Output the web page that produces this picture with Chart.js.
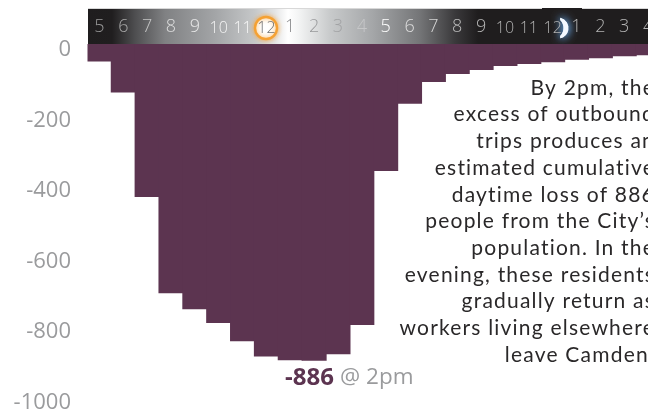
<!DOCTYPE html>
<html><head><meta charset="utf-8">
<style>html,body{margin:0;padding:0;background:#fff;overflow:hidden;width:648px;height:412px}canvas{display:block}</style>
<script src="https://cdn.jsdelivr.net/npm/chart.js@4"></script></head>
<body><div style="width:648px;height:412px;overflow:hidden"><canvas id="c" width="672" height="460" style="width:672px;height:460px"></canvas></div>
<script>
const hourLabels=['5','6','7','8','9','10','11','12','1','2','3','4','5','6','7','8','9','10','11','12','1','2','3','4'];
const populationChange=[-38,-126,-422,-695,-740,-779,-831,-874,-885,-886,-868,-785,-348,-158,-96,-73,-62,-51,-45,-40,-33,-29,-23,-20];
const hourColors=['#9a9a9a','#a8a8a8','#c4c4c4','#dcdcdc','#e8e8e8','#f4f4f4','#f8f8f8','#6f7072','#8a8b8d','#98999b','#a2a3a5','#c6c7c8','#ffffff','#dddddd','#d4d4d4','#bcbcbc','#b4b4b4','#b4b4b4','#b4b4b4','#b4b4b4','#b4b4b4','#b4b4b4','#b4b4b4','#b4b4b4'];
const yTicks=[0,-200,-400,-600,-800,-1000];
const noteLines=['By 2pm, the','excess of outbound','trips produces an','estimated cumulative','daytime loss of 886','people from the City’s','population. In the','evening, these residents','gradually return as','workers living elsewhere','leave Camden.'];
const peakLabel='@ 2pm';
const PURPLE='#5c3450',GREY='#9a9b9d';

const decor={id:'decor',
 beforeDraw(ch){const c=ch.ctx,top=9,bot=44,x0=88,W=672;
  c.save();
  c.fillStyle='#d8d8d8';c.fillRect(x0,8,W-x0,1);
  c.fillStyle='#1f1d1e';c.fillRect(542,8,40,1);
  const g=c.createLinearGradient(x0,0,W,0);
  [[88,'#1f1d1e'],[112,'#201e1f'],[135,'#4e4e50'],[165,'#808183'],[215,'#a3a5a7'],[255,'#c6c8c9'],[275,'#e4e5e6'],[288,'#ffffff'],[298,'#f4f5f5'],[330,'#c8cacb'],[372,'#a5a7a9'],[420,'#747577'],[455,'#3a393b'],[478,'#1f1d1e'],[672,'#1f1d1e']].forEach(s=>g.addColorStop((s[0]-x0)/(W-x0),s[1]));
  c.fillStyle=g;c.fillRect(x0,top,W-x0,bot-top);
  // sun
  c.shadowColor='rgba(247,160,50,.8)';c.shadowBlur=5;
  c.beginPath();c.arc(266,28,11,0,Math.PI*2);c.fillStyle='#fff';c.fill();
  c.lineWidth=2.4;c.strokeStyle='#f5a133';c.stroke();
  // moon
  c.shadowColor='rgba(110,175,240,.95)';c.shadowBlur=8;
  c.beginPath();c.arc(558,28,10.5,-1.35,1.35,false);c.arc(552,28,11.5,0.78,-0.78,true);c.closePath();
  c.fillStyle='#f4f9ff';c.fill();c.fill();
  c.restore();
 },
 afterDraw(ch){const c=ch.ctx;c.save();
  c.textBaseline='middle';c.textAlign='right';c.fillStyle='#2a2829';
  c.font='21px Lato';c.letterSpacing='1.2px';
  noteLines.forEach((t,i)=>c.fillText(t,655,88+i*26.7));
  c.letterSpacing='0px';
  const peak=Math.min(...populationChange);
  c.textAlign='left';c.font='bold 24px "Open Sans"';c.fillStyle=PURPLE;
  c.fillText(String(peak),285,378);
  c.font='22.5px "Open Sans"';c.fillStyle=GREY;c.fillText(peakLabel,340,378);
  c.restore();
 }};

const yMax=10,yMin=-1085,labelShift=7;
new Chart(document.getElementById('c'),{type:'bar',
 data:{labels:hourLabels,datasets:[{data:populationChange,base:yMax,backgroundColor:PURPLE,borderWidth:0,barPercentage:1,categoryPercentage:1,inflateAmount:0.6}]},
 plugins:[decor],
 options:{responsive:false,animation:false,maintainAspectRatio:false,
  layout:{padding:{left:0,right:12,top:0,bottom:0}},
  plugins:{legend:{display:false},tooltip:{enabled:false}},
  scales:{
   x:{position:'top',offset:true,grid:{display:false,drawTicks:false},border:{display:false},
      afterFit(a){a.height=44},
      ticks:{autoSkip:false,maxRotation:0,padding:6,
        color:c=>hourColors[c.index],
        font:c=>hourLabels[c.index].length>1?{family:'"Open Sans"',size:16,weight:'300'}:{family:'"Open Sans"',size:18,weight:'300'}}},
   y:{display:false,min:yMin,max:yMax},
   yt:{position:'left',min:yMin+labelShift,max:yMax+labelShift,afterFit(a){a.width=87.5},
      afterBuildTicks(a){a.ticks=yTicks.map(v=>({value:v}))},
      grid:{display:false,drawTicks:false},border:{display:false},
      ticks:{padding:16.5,color:GREY,callback:v=>String(v),font:{family:'"Open Sans"',size:22}}}
  }}});
</script></body></html>
